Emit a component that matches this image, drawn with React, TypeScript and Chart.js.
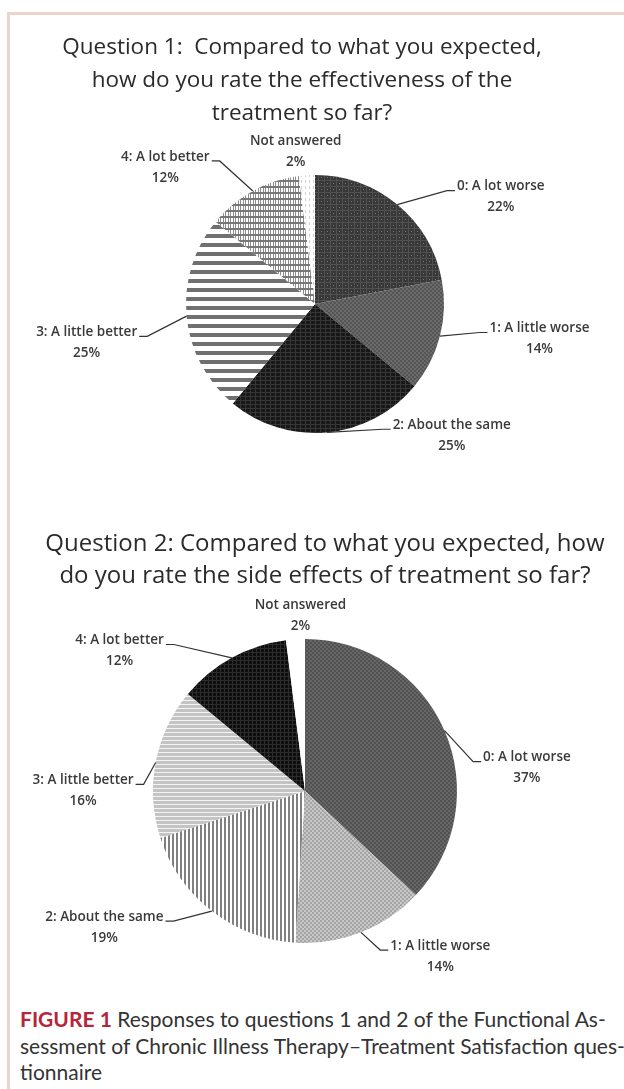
import React, { useEffect, useRef } from "react";
import { Chart, registerables } from "chart.js";

Chart.register(...registerables);

// ---------- data ----------
const categories = [
  "0: A lot worse",
  "1: A little worse",
  "2: About the same",
  "3: A little better",
  "4: A lot better",
  "Not answered",
];
const q1Values = [22, 14, 25, 25, 12, 2];
const q2Values = [37, 14, 19, 16, 12, 2];
const q1TitleLines = [
  "Question 1:  Compared to what you expected,",
  "how do you rate the effectiveness of the",
  "treatment so far?",
];
const q2TitleLines = [
  "Question 2: Compared to what you expected, how",
  "do you rate the side effects of treatment so far?",
];

// ---------- label placement (in units of pie radius, relative to centre) ----------
const q1LabelPos = [
  [1.44, -0.91],
  [1.74, 0.19],
  [1.06, 0.94],
  [-1.77, 0.22],
  [-1.16, -1.14],
  [-0.15, -1.26],
];
const q2LabelPos = [
  [1.46, -0.22],
  [0.89, 1.02],
  [-1.32, 0.83],
  [-1.46, -0.07],
  [-1.22, -0.99],
  [-0.03, -1.22],
];
const leaderOn = [true, true, true, true, true, false];

function tile(w: number, h: number, draw: (c: CanvasRenderingContext2D) => void) {
  const cv = document.createElement("canvas");
  cv.width = w;
  cv.height = h;
  const c = cv.getContext("2d")!;
  draw(c);
  return c.createPattern(cv, "repeat")!;
}

function q1Patterns() {
  return [
    tile(6, 6, (c) => {
      c.fillStyle = "#383838";
      c.fillRect(0, 0, 6, 6);
      c.fillStyle = "#505050";
      c.fillRect(0, 0, 6, 1);
      c.fillRect(0, 0, 1, 6);
      c.fillStyle = "#7a7a7a";
      c.fillRect(3, 3, 1, 1);
    }),
    tile(4, 4, (c) => {
      c.fillStyle = "#6a6a6a";
      c.fillRect(0, 0, 4, 4);
      c.fillStyle = "#555";
      c.fillRect(0, 0, 2, 2);
      c.fillRect(2, 2, 2, 2);
    }),
    tile(5, 4, (c) => {
      c.fillStyle = "#181818";
      c.fillRect(0, 0, 5, 4);
      c.fillStyle = "#363636";
      c.fillRect(0, 0, 5, 1);
      c.fillRect(0, 0, 1, 4);
    }),
    tile(9, 9, (c) => {
      c.fillStyle = "#ffffff";
      c.fillRect(0, 0, 9, 9);
      c.fillStyle = "#707070";
      c.fillRect(0, 0, 9, 4);
    }),
    tile(5, 6, (c) => {
      c.fillStyle = "#ffffff";
      c.fillRect(0, 0, 5, 6);
      c.fillStyle = "#8c8c8c";
      c.fillRect(0, 0, 1, 6);
      c.fillRect(3, 0, 1, 6);
      c.fillStyle = "#777";
      c.fillRect(0, 0, 5, 2);
    }),
    tile(4, 6, (c) => {
      c.fillStyle = "#ffffff";
      c.fillRect(0, 0, 4, 6);
      c.fillStyle = "#d0d0d0";
      c.fillRect(1, 0, 1, 3);
    }),
  ];
}

function q2Patterns() {
  return [
    tile(4, 4, (c) => {
      c.fillStyle = "#666";
      c.fillRect(0, 0, 4, 4);
      c.fillStyle = "#525252";
      c.fillRect(0, 0, 2, 2);
      c.fillRect(2, 2, 2, 2);
    }),
    tile(4, 4, (c) => {
      c.fillStyle = "#c8c8c8";
      c.fillRect(0, 0, 4, 4);
      c.fillStyle = "#a4a4a4";
      c.fillRect(0, 0, 2, 2);
      c.fillRect(2, 2, 2, 2);
    }),
    tile(4, 4, (c) => {
      c.fillStyle = "#ffffff";
      c.fillRect(0, 0, 4, 4);
      c.fillStyle = "#808080";
      c.fillRect(0, 0, 2, 4);
    }),
    tile(4, 4, (c) => {
      c.fillStyle = "#c4c4c4";
      c.fillRect(0, 0, 4, 4);
      c.fillStyle = "#f4f4f4";
      c.fillRect(0, 0, 4, 1);
    }),
    tile(4, 4, (c) => {
      c.fillStyle = "#0e0e0e";
      c.fillRect(0, 0, 4, 4);
      c.fillStyle = "#2c2c2c";
      c.fillRect(0, 0, 4, 1);
      c.fillRect(0, 0, 1, 4);
    }),
    "#ffffff",
  ];
}

const LABEL_FONT = "600 13.5px 'Open Sans'";

function labelPlugin(pos: number[][], values: number[]) {
  return {
    id: "pieLabels",
    afterDraw(chart: any) {
      const ctx = chart.ctx as CanvasRenderingContext2D;
      const meta = chart.getDatasetMeta(0);
      ctx.save();
      ctx.font = LABEL_FONT;
      ctx.fillStyle = "#3a3a3a";
      ctx.strokeStyle = "#333";
      ctx.lineWidth = 1.2;
      ctx.textAlign = "center";
      ctx.textBaseline = "middle";
      meta.data.forEach((arc: any, i: number) => {
        const { x, y, startAngle, endAngle, outerRadius } = arc.getProps(
          ["x", "y", "startAngle", "endAngle", "outerRadius"],
          true
        );
        const mid = (startAngle + endAngle) / 2;
        const ex = x + outerRadius * Math.cos(mid);
        const ey = y + outerRadius * Math.sin(mid);
        const lx = x + pos[i][0] * outerRadius;
        const ly = y + pos[i][1] * outerRadius;
        const name = chart.data.labels[i];
        ctx.fillText(name, lx, ly);
        ctx.fillText(values[i] + "%", lx, ly + 21);
        if (leaderOn[i]) {
          const w = ctx.measureText(name).width;
          const right = lx > x;
          const sx = right ? lx - w / 2 - 2 : lx + w / 2 + 2;
          const sy = ly + 4;
          const hx = right ? sx - 8 : sx + 8;
          ctx.beginPath();
          ctx.moveTo(sx, sy);
          ctx.lineTo(hx, sy);
          ctx.lineTo(ex, ey);
          ctx.stroke();
        }
      });
      ctx.restore();
    },
  };
}

function PieBlock(props: {
  values: number[];
  patterns: () => any[];
  pos: number[][];
  top: number;
  height: number;
  padding: { left: number; right: number; top: number; bottom: number };
}) {
  const ref = useRef<HTMLCanvasElement>(null);
  useEffect(() => {
    const chart = new Chart(ref.current!, {
      type: "pie",
      data: {
        labels: categories,
        datasets: [
          {
            data: props.values,
            backgroundColor: props.patterns(),
            borderWidth: 0,
          },
        ],
      },
      options: {
        animation: false,
        responsive: false,
        events: [],
        layout: { padding: props.padding },
        plugins: {
          legend: { display: false },
          tooltip: { enabled: false },
          title: { display: false },
        },
      },
      plugins: [labelPlugin(props.pos, props.values)],
    });
    return () => chart.destroy();
  }, []);
  return (
    <canvas
      ref={ref}
      width={624}
      height={props.height}
      style={{ position: "absolute", left: 0, top: props.top, width: 624, height: props.height }}
    />
  );
}

export default function App() {
  const titleStyle: React.CSSProperties = {
    position: "absolute",
    textAlign: "center",
    fontFamily: "'Open Sans', sans-serif",
    color: "#2b2b2b",
    whiteSpace: "pre",
  };
  return (
    <div
      style={{
        position: "absolute",
        left: 0,
        top: 0,
        width: 624,
        height: 1089,
        background: "#fff",
        overflow: "hidden",
      }}
    >
      <div
        style={{
          position: "absolute",
          left: 7,
          top: 12,
          width: 640,
          height: 1100,
          borderTop: "3px solid #edd3cb",
          borderLeft: "3px solid #edd3cb",
        }}
      />
      <PieBlock
        values={q1Values}
        patterns={q1Patterns}
        pos={q1LabelPos}
        top={0}
        height={480}
        padding={{ left: 186, right: 180, top: 175, bottom: 47 }}
      />
      <PieBlock
        values={q2Values}
        patterns={q2Patterns}
        pos={q2LabelPos}
        top={480}
        height={520}
        padding={{ left: 153, right: 167, top: 159, bottom: 57 }}
      />
      <div style={{ ...titleStyle, left: 0, width: 604, top: 29, fontSize: 22.5, lineHeight: "33px" }}>
        {q1TitleLines.map((l, i) => (
          <div key={i}>{l}</div>
        ))}
      </div>
      <div style={{ ...titleStyle, left: 0, width: 650, top: 526, fontSize: 24, lineHeight: "32px" }}>
        {q2TitleLines.map((l, i) => (
          <div key={i}>{l}</div>
        ))}
      </div>
      <div
        style={{
          position: "absolute",
          left: 20,
          top: 1006,
          width: 620,
          fontFamily: "Lato, sans-serif",
          fontSize: 21,
          lineHeight: "26.5px",
          color: "#333",
          whiteSpace: "nowrap",
        }}
      >
        <span style={{ color: "#b5263b", fontWeight: 700 }}>FIGURE 1</span> Responses to questions 1 and 2 of the Functional As-
        <br />
        sessment of Chronic Illness Therapy–Treatment Satisfaction ques-
        <br />
        tionnaire
      </div>
    </div>
  );
}
